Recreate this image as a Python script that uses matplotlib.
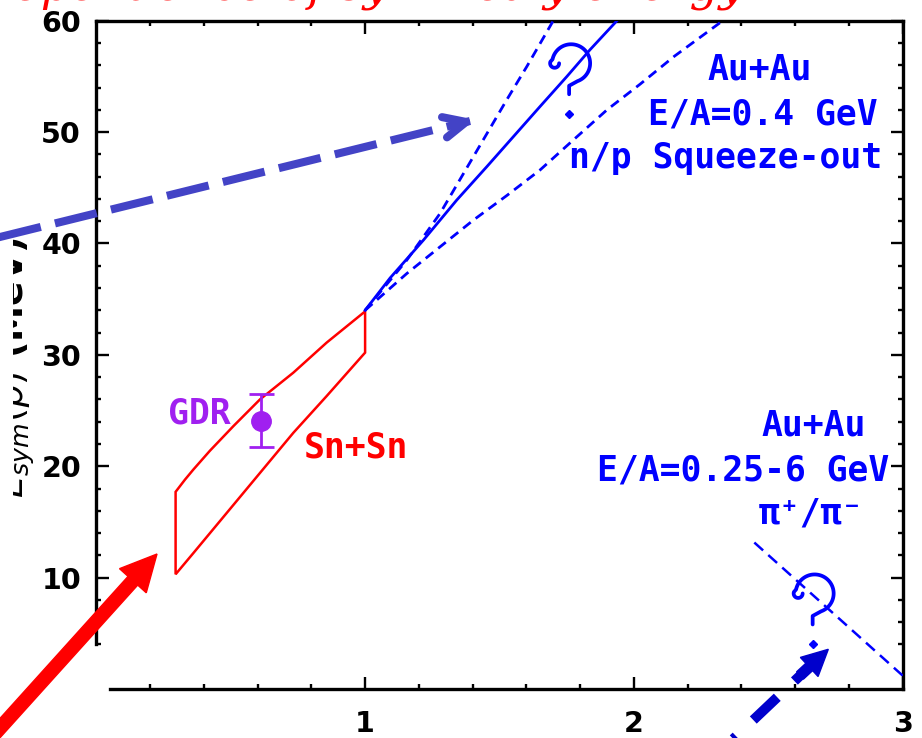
import numpy as np
import matplotlib
matplotlib.use("Agg")
import matplotlib.pyplot as plt
from matplotlib import transforms as mtransforms
from matplotlib.path import Path
from matplotlib.patches import PathPatch, FancyArrow, FancyArrowPatch, Rectangle
from matplotlib.lines import Line2D
from matplotlib.ticker import FixedLocator

plt.rcParams["lines.scale_dashes"] = False

# ---------------- data ----------------
# Sn+Sn constraint band (u = rho/rho0, E_sym in MeV)
sn_upper_u = [0.295, 0.33, 0.361, 0.423, 0.51, 0.609, 0.733, 0.857, 1.0]
sn_upper_e = [17.7, 18.8, 19.7, 21.4, 23.6, 26.0, 28.4, 31.1, 33.9]
sn_lower_u = [1.0, 0.857, 0.733, 0.609, 0.485, 0.361, 0.295]
sn_lower_e = [30.2, 26.3, 23.0, 19.4, 15.8, 12.2, 10.3]

# Giant dipole resonance point
gdr_u = [0.612]
gdr_e = [24.1]
gdr_err = [2.4]

# n/p squeeze-out, Au+Au E/A = 0.4 GeV
sq_mid_u = [1.0, 1.093, 1.217, 1.341, 1.453, 1.552, 1.651, 1.751, 1.837, 1.937]
sq_mid_e = [34.0, 36.9, 40.3, 43.9, 46.9, 49.6, 52.3, 55.0, 57.4, 60.0]
sq_hi_u = [1.0, 1.155, 1.279, 1.403, 1.527, 1.602, 1.70]
sq_hi_e = [34.0, 38.5, 42.7, 47.8, 52.9, 55.9, 60.0]
sq_lo_u = [1.0, 1.155, 1.279, 1.403, 1.527, 1.651, 1.775, 1.90, 2.023, 2.15, 2.325]
sq_lo_e = [34.0, 37.3, 39.7, 42.1, 44.3, 46.6, 49.3, 52.0, 54.3, 56.8, 59.9]

# pi+/pi- ratio, Au+Au E/A = 0.25-6 GeV
pion_u = [2.448, 3.0]
pion_e = [13.15, 1.2]

# question-mark anchors (where each "?" dot sits)
query_u = [1.759, 2.665]
query_e = [51.6, 4.0]

x_major = [1, 2, 3]
y_major = [10, 20, 30, 40, 50, 60]

# ---------------- figure ----------------
W, H, DPI = 922, 738, 100
fig = plt.figure(figsize=(W / DPI, H / DPI), dpi=DPI)
fig.patch.set_facecolor("white")
# pixel transform with origin at the top-left corner of the canvas
px = mtransforms.Affine2D().scale(1 / DPI, -1 / DPI).translate(0, H / DPI) + fig.dpi_scale_trans

ax = fig.add_axes([96.3 / W, (H - 689) / H, 806.4 / W, 668.3 / H])
ax.set_xlim(0, 3)
ax.set_ylim(0, 60)

for s in ax.spines.values():
    s.set_linewidth(2.4)
ax.spines["left"].set_bounds(4, 60)
ax.spines["bottom"].set_bounds(0.05, 3)

ax.xaxis.set_major_locator(FixedLocator(x_major))
ax.yaxis.set_major_locator(FixedLocator(y_major))
xm = [round(v, 1) for v in np.arange(0.2, 3.0, 0.2) if abs(v - round(v)) > 1e-6]
ym = [v for v in range(4, 60, 2) if v % 10]
ax.xaxis.set_minor_locator(FixedLocator(xm))
ax.yaxis.set_minor_locator(FixedLocator(ym))
ax.tick_params(which="both", direction="in", top=True, right=True, width=1.7,
               labelsize=20.5)
ax.tick_params(which="major", length=9)
ax.tick_params(which="minor", length=3.8)
ax.tick_params(axis="y", pad=11)
ax.tick_params(axis="x", pad=15)
for lbl in ax.get_xticklabels() + ax.get_yticklabels():
    lbl.set_fontweight("heavy")

# Sn+Sn band
ax.fill(sn_upper_u + sn_lower_u, sn_upper_e + sn_lower_e, facecolor="none",
        edgecolor="#FF0000", lw=1.8, zorder=3)

# GDR point
purple = "#A020F0"
ax.errorbar(gdr_u, gdr_e, yerr=gdr_err, fmt="o", color=purple, ms=14,
            capsize=9, capthick=2.0, elinewidth=2.0, zorder=4)

# squeeze-out curves
blue = "#0000FF"
ax.plot(sq_mid_u, sq_mid_e, color=blue, lw=2.0, zorder=3)
ax.plot(sq_hi_u, sq_hi_e, color=blue, lw=2.0, linestyle=(0, (7, 4.5)), zorder=3)
ax.plot(sq_lo_u, sq_lo_e, color=blue, lw=2.0, linestyle=(0, (7, 4.5)), zorder=3)

# pion-ratio line
ax.plot(pion_u, pion_e, color=blue, lw=1.8, linestyle=(0, (8.5, 5)), zorder=3)


# hand-drawn style question marks
def question_path():
    curl_t = np.deg2rad(np.linspace(0, -200, 24))
    curl = np.column_stack([-14.5 + 4.5 * np.cos(curl_t), 51 + 4.5 * np.sin(curl_t)])
    arc_t = np.deg2rad(np.linspace(168, -70, 60))
    arc = np.column_stack([2 + 19 * np.cos(arc_t), 51 + 19 * np.sin(arc_t)])
    stem = np.array([[0.0, 28.5], [0.0, 20.0]])
    verts = np.vstack([curl, arc, stem]) / DPI
    return Path(verts)


qpath = question_path()
for qu, qe in zip(query_u, query_e):
    tr = fig.dpi_scale_trans + mtransforms.ScaledTranslation(qu, qe, ax.transData)
    ax.add_patch(PathPatch(qpath, fill=False, edgecolor=blue, lw=2.7,
                           transform=tr, clip_on=False, zorder=5,
                           capstyle="round", joinstyle="round"))
ax.plot(query_u, query_e, "D", color=blue, ms=4.5, zorder=5, clip_on=False)

# labels
tfont = dict(family="DejaVu Sans Mono", fontweight="bold", fontsize=25)
ax.text(2.468, 54.7, "Au+Au", color=blue, ha="center", va="baseline", **tfont)
ax.text(2.479, 50.67, "E/A=0.4 GeV", color=blue, ha="center", va="baseline", **tfont)
ax.text(2.341, 46.8, "n/p Squeeze-out", color=blue, ha="center", va="baseline", **tfont)
ax.text(2.669, 22.73, "Au+Au", color=blue, ha="center", va="baseline", **tfont)
ax.text(2.405, 18.69, "E/A=0.25-6 GeV", color=blue, ha="center", va="baseline", **tfont)
ax.text(2.660, 14.82, "π⁺/π⁻", color=blue, ha="center", va="baseline", **tfont)
ax.text(0.382, 23.8, "GDR", color=purple, ha="center", va="baseline", **tfont)
ax.text(0.966, 20.75, "Sn+Sn", color="#FF0000", ha="center", va="baseline", **tfont)

# axis title, partly hidden behind a white slide panel on the left
fig.text(24 / W, 1 - 237 / H, r"$E_{sym}(\rho)$ (MeV)", rotation=90,
         rotation_mode="anchor", ha="right", va="baseline", fontsize=26,
         fontweight="bold", color="black", zorder=1)
fig.add_artist(Rectangle((-5, 190), 18, 420, facecolor="white", edgecolor="none",
                         transform=px, zorder=2))

# slide heading, running off the top edge
fig.text(745 / W, 1 + 1 / H, "Density dependence of symmetry energy", ha="right",
         va="baseline", fontsize=33, style="italic", family="DejaVu Serif",
         color="#FF0000")

# pointer arrows
fig.add_artist(FancyArrow(-18, 748, 175, -194, width=13, head_width=36,
                          head_length=36, length_includes_head=True,
                          color="#FF0000", transform=px, zorder=6))

slate = "#4343C6"
fig.add_artist(Line2D([-43, 470], [247.6, 121.0], color=slate, lw=5.8,
                      linestyle=(0, (31, 10.5)), solid_capstyle="butt",
                      transform=px, zorder=6))
fig.add_artist(FancyArrowPatch((452, 125.4), (478, 119),
                               arrowstyle="->,head_length=16,head_width=7.5",
                               mutation_scale=1, color=slate, lw=5.8,
                               transform=px, zorder=6))

navy = "#0000CC"
fig.add_artist(Line2D([805, 690], [671, 780], color=navy, lw=7.2,
                      linestyle=(13.3, (23.8, 17)), solid_capstyle="butt",
                      transform=px, zorder=6))
fig.add_artist(FancyArrow(800, 675.5, 28.3, -26.2, width=10, head_width=26,
                          head_length=26, length_includes_head=True,
                          color=navy, transform=px, zorder=6))

fig.savefig("out.png", dpi=DPI)
